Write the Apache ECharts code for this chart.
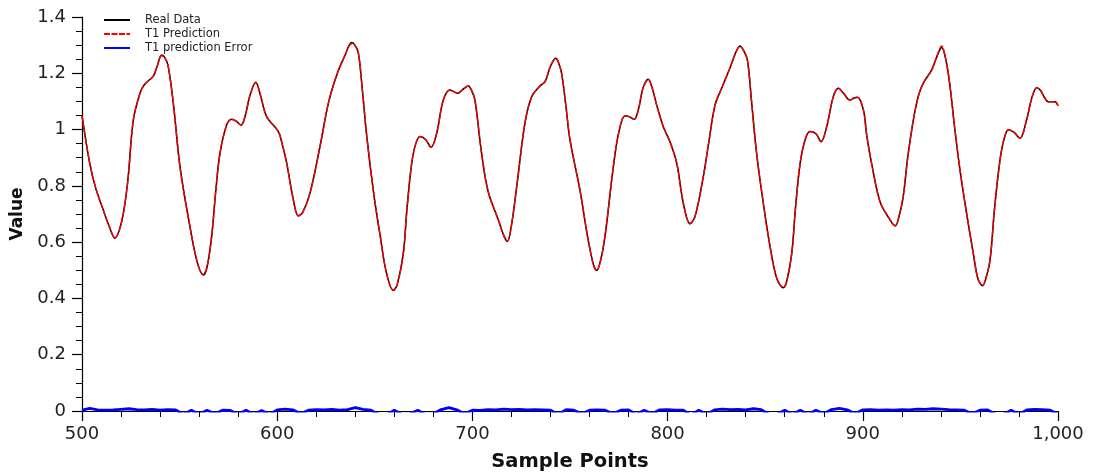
<!DOCTYPE html>
<html>
<head>
<meta charset="utf-8">
<script src="https://cdn.jsdelivr.net/npm/echarts@6/dist/echarts.min.js"></script>
<style>
  html, body { margin: 0; padding: 0; background: #fff; }
  #chart { width: 1100px; height: 475px; }
</style>
</head>
<body>
<div id="chart"></div>
<script>
// ---- data ----
const sampleX = [500, 503.7, 506.7, 510.9, 514, 516.9, 519, 521.2, 523.5, 526.3, 529.7, 532, 536.5, 538.5, 540.8, 542.5, 544.2, 547, 550.2, 555.3, 559, 562.1, 564, 566.4, 568.5, 570.7, 574.1, 576.7, 579, 581.5, 583.5, 586, 589, 591.5, 594.6, 600.6, 602.5, 604.9, 608, 610.8, 613, 616.8, 621.9, 626.2, 630.5, 634.5, 638.2, 639.8, 641.6, 643.5, 645.9, 649.5, 652.7, 656, 659.5, 661.5, 664.6, 666.5, 668.9, 671, 673.2, 676, 678.8, 681.7, 685.1, 688.5, 690.5, 692.5, 695, 697.9, 699.5, 701.3, 704.7, 708.1, 713.3, 716, 717.9, 720, 722.7, 726.9, 730.4, 734.6, 737.2, 740, 742.7, 744, 745.7, 747.8, 750, 755.1, 759, 762, 763.7, 765.5, 767.9, 772.2, 775, 778.2, 780.5, 782.9, 785, 787.5, 790.1, 792, 794.4, 797.8, 801.2, 804.7, 808, 811.5, 814, 818.3, 821, 824.3, 827.7, 832, 835, 837.1, 839, 840.9, 843, 845.6, 849, 852.5, 856, 859.3, 861, 863.6, 865.5, 867.9, 870.5, 873, 876, 878.6, 881.5, 884.9, 887.5, 890, 893.4, 895.5, 897.2, 900.3, 902, 904.5, 908.8, 913, 916.6, 918.5, 920.7, 923, 925.9, 928.5, 931, 935.3, 938, 940.4, 942.5, 944.7, 947, 949.8, 953, 956.6, 959, 961.4, 963, 965.2, 967.5, 970.3, 972.5, 974.6, 977.5, 980.5, 983.9, 986.5, 989.1, 991, 993, 995, 998.5, 1000];

const realData = [1.05, 0.89, 0.80, 0.714, 0.655, 0.614, 0.64, 0.703, 0.82, 1.034, 1.129, 1.16, 1.19, 1.225, 1.265, 1.255, 1.224, 1.08, 0.868, 0.655, 0.53, 0.483, 0.51, 0.619, 0.78, 0.916, 1.016, 1.037, 1.03, 1.016, 1.046, 1.12, 1.168, 1.12, 1.046, 0.993, 0.95, 0.88, 0.76, 0.693, 0.705, 0.774, 0.939, 1.093, 1.194, 1.26, 1.309, 1.30, 1.271, 1.15, 0.975, 0.77, 0.625, 0.49, 0.428, 0.45, 0.56, 0.72, 0.88, 0.95, 0.975, 0.965, 0.937, 0.987, 1.105, 1.141, 1.135, 1.129, 1.142, 1.155, 1.14, 1.105, 0.916, 0.779, 0.679, 0.625, 0.602, 0.66, 0.797, 1.022, 1.117, 1.155, 1.17, 1.225, 1.253, 1.24, 1.20, 1.09, 0.963, 0.785, 0.62, 0.52, 0.499, 0.53, 0.619, 0.868, 0.99, 1.049, 1.045, 1.037, 1.07, 1.15, 1.179, 1.15, 1.087, 1.01, 0.957, 0.88, 0.74, 0.665, 0.69, 0.833, 0.95, 1.087, 1.147, 1.22, 1.275, 1.297, 1.28, 1.247, 1.10, 0.916, 0.74, 0.584, 0.47, 0.438, 0.46, 0.56, 0.72, 0.88, 0.965, 0.993, 0.985, 0.957, 1.01, 1.117, 1.147, 1.13, 1.105, 1.112, 1.115, 1.07, 0.98, 0.88, 0.744, 0.69, 0.657, 0.69, 0.762, 0.90, 1.034, 1.12, 1.165, 1.212, 1.26, 1.292, 1.25, 1.153, 1.01, 0.856, 0.71, 0.56, 0.47, 0.445, 0.47, 0.537, 0.72, 0.892, 0.97, 0.999, 0.99, 0.969, 1.034, 1.11, 1.149, 1.14, 1.115, 1.099, 1.099, 1.085];

const predData = [1.05, 0.89, 0.80, 0.714, 0.655, 0.616, 0.64, 0.703, 0.82, 1.034, 1.129, 1.16, 1.19, 1.225, 1.262, 1.255, 1.224, 1.08, 0.868, 0.655, 0.53, 0.485, 0.51, 0.619, 0.78, 0.916, 1.016, 1.037, 1.03, 1.016, 1.046, 1.12, 1.166, 1.12, 1.046, 0.993, 0.95, 0.88, 0.76, 0.695, 0.705, 0.774, 0.939, 1.093, 1.194, 1.26, 1.305, 1.30, 1.271, 1.15, 0.975, 0.77, 0.625, 0.49, 0.43, 0.45, 0.56, 0.72, 0.88, 0.95, 0.975, 0.965, 0.937, 0.987, 1.105, 1.141, 1.135, 1.129, 1.142, 1.155, 1.14, 1.105, 0.916, 0.779, 0.679, 0.625, 0.604, 0.66, 0.797, 1.022, 1.117, 1.155, 1.17, 1.225, 1.252, 1.24, 1.20, 1.09, 0.963, 0.785, 0.62, 0.52, 0.5, 0.53, 0.619, 0.868, 0.99, 1.049, 1.045, 1.037, 1.07, 1.15, 1.178, 1.15, 1.087, 1.01, 0.957, 0.88, 0.74, 0.667, 0.69, 0.833, 0.95, 1.087, 1.147, 1.22, 1.275, 1.295, 1.28, 1.247, 1.10, 0.916, 0.74, 0.584, 0.47, 0.44, 0.46, 0.56, 0.72, 0.88, 0.965, 0.993, 0.985, 0.957, 1.01, 1.117, 1.147, 1.13, 1.105, 1.112, 1.115, 1.07, 0.98, 0.88, 0.744, 0.69, 0.659, 0.69, 0.762, 0.90, 1.034, 1.12, 1.165, 1.212, 1.262, 1.297, 1.25, 1.153, 1.01, 0.856, 0.71, 0.56, 0.47, 0.447, 0.47, 0.537, 0.72, 0.892, 0.97, 0.999, 0.99, 0.969, 1.034, 1.11, 1.148, 1.14, 1.115, 1.099, 1.099, 1.085];

const errorX = [500, 504, 508, 512, 516, 520, 524, 528, 532, 536, 540, 544, 548, 552, 556, 560, 564, 568, 572, 576, 580, 584, 588, 592, 596, 600, 604, 608, 612, 616, 620, 624, 628, 632, 636, 640, 644, 648, 652, 656, 660, 664, 668, 672, 676, 680, 684, 688, 692, 696, 700, 704, 708, 712, 716, 720, 724, 728, 732, 736, 740, 744, 748, 752, 756, 760, 764, 768, 772, 776, 780, 784, 788, 792, 796, 800, 804, 808, 812, 816, 820, 824, 828, 832, 836, 840, 844, 848, 852, 856, 860, 864, 868, 872, 876, 880, 884, 888, 892, 896, 900, 904, 908, 912, 916, 920, 924, 928, 932, 936, 940, 944, 948, 952, 956, 960, 964, 968, 972, 976, 980, 984, 988, 992, 996, 1000];

const errorData = [0.003, 0.009, 0.004, 0.003, 0.004, 0.006, 0.008, 0.005, 0.004, 0.006, 0.003, 0.005, 0.004, -0.012, 0.003, -0.012, 0.003, -0.01, 0.003, 0.002, -0.012, 0.003, -0.012, 0.002, -0.012, 0.004, 0.007, 0.004, -0.01, 0.003, 0.005, 0.004, 0.006, 0.003, 0.005, 0.012, 0.006, 0.003, -0.012, -0.014, 0.003, -0.012, -0.01, 0.003, -0.012, -0.01, 0.005, 0.012, 0.004, -0.01, 0.003, 0.002, 0.005, 0.004, 0.007, 0.005, 0.006, 0.004, 0.005, 0.004, 0.003, -0.012, 0.005, 0.003, -0.01, 0.003, 0.004, 0.003, -0.01, 0.003, 0.004, -0.012, 0.003, -0.01, 0.004, 0.005, 0.003, 0.003, -0.014, 0.003, -0.012, 0.004, 0.007, 0.005, 0.006, 0.004, 0.008, 0.005, -0.012, -0.012, 0.003, -0.012, 0.003, -0.012, 0.003, -0.01, 0.005, 0.009, 0.004, -0.01, 0.004, 0.005, 0.003, 0.004, 0.003, 0.005, 0.004, 0.007, 0.006, 0.008, 0.007, 0.005, 0.004, 0.003, -0.01, 0.003, 0.004, -0.012, -0.012, 0.003, -0.012, 0.004, 0.006, 0.005, 0.003, -0.012];

const xTicks = { min: 500, max: 1000, interval: 100 };
const yTicks = { min: 0, max: 1.4, interval: 0.2 };
const seriesNames = ['Real Data', 'T1 Prediction', 'T1 prediction Error'];

// ---- chart ----
const pair = (xs, ys) => xs.map((x, i) => [x, ys[i]]);
const FONT = 'DejaVu Sans';
const chart = echarts.init(document.getElementById('chart'), null, { renderer: 'canvas' });

chart.setOption({
  animation: false,
  backgroundColor: '#ffffff',
  textStyle: { fontFamily: FONT },
  grid: { left: 82, right: 42, top: 17, bottom: 64, containLabel: false, outerBoundsMode: 'none' },
  legend: {
    orient: 'vertical',
    left: 98,
    top: 9,
    itemWidth: 26,
    itemHeight: 10,
    itemGap: 2,
    data: seriesNames,
    itemStyle: { opacity: 0 },
    textStyle: { fontFamily: FONT, fontSize: 11.5, color: '#222', padding: [0, 0, 0, 10] }
  },
  xAxis: {
    type: 'value',
    min: xTicks.min, max: xTicks.max, interval: xTicks.interval,
    name: 'Sample Points',
    nameLocation: 'middle',
    nameGap: 41,
    nameTextStyle: { fontFamily: FONT, fontWeight: 'bold', fontSize: 19.5, color: '#111' },
    axisLine: { onZero: false, lineStyle: { color: '#000', width: 1.2 } },
    axisTick: { show: true, length: 10, lineStyle: { color: '#000', width: 1.2 } },
    minorTick: { show: true, splitNumber: 5, length: 6, lineStyle: { color: '#000', width: 1 } },
    axisLabel: {
      fontFamily: FONT, fontSize: 18, color: '#222', margin: 14,
      formatter: v => v.toLocaleString('en-US')
    },
    splitLine: { show: false }
  },
  yAxis: {
    type: 'value',
    min: yTicks.min, max: yTicks.max, interval: yTicks.interval,
    name: 'Value',
    nameLocation: 'middle',
    nameGap: 54,
    nameRotate: 90,
    nameTextStyle: { fontFamily: FONT, fontWeight: 'bold', fontSize: 17, color: '#111' },
    axisLine: { show: true, lineStyle: { color: '#000', width: 1.2 } },
    axisTick: { show: true, length: 10, lineStyle: { color: '#000', width: 1.2 } },
    minorTick: { show: true, splitNumber: 4, length: 6, lineStyle: { color: '#000', width: 1 } },
    axisLabel: { fontFamily: FONT, fontSize: 18, color: '#222', margin: 16 },
    splitLine: { show: false }
  },
  series: [
    {
      name: seriesNames[0], type: 'line', data: pair(sampleX, realData),
      showSymbol: false, symbol: 'none', smooth: 0.35, clip: true,
      lineStyle: { color: '#000', width: 1.5 }, itemStyle: { color: '#000' }, z: 2
    },
    {
      name: seriesNames[1], type: 'line', data: pair(sampleX, predData),
      showSymbol: false, symbol: 'none', smooth: 0.35, clip: true,
      lineStyle: { color: '#ff0000', width: 1.5, type: [6, 1.5] }, itemStyle: { color: '#ff0000' }, z: 3
    },
    {
      name: seriesNames[2], type: 'line', data: pair(errorX, errorData),
      showSymbol: false, symbol: 'none', smooth: false, clip: true,
      lineStyle: { color: '#0000ff', width: 2.8 }, itemStyle: { color: '#0000ff' }, z: 4
    }
  ]
});
</script>
</body>
</html>
